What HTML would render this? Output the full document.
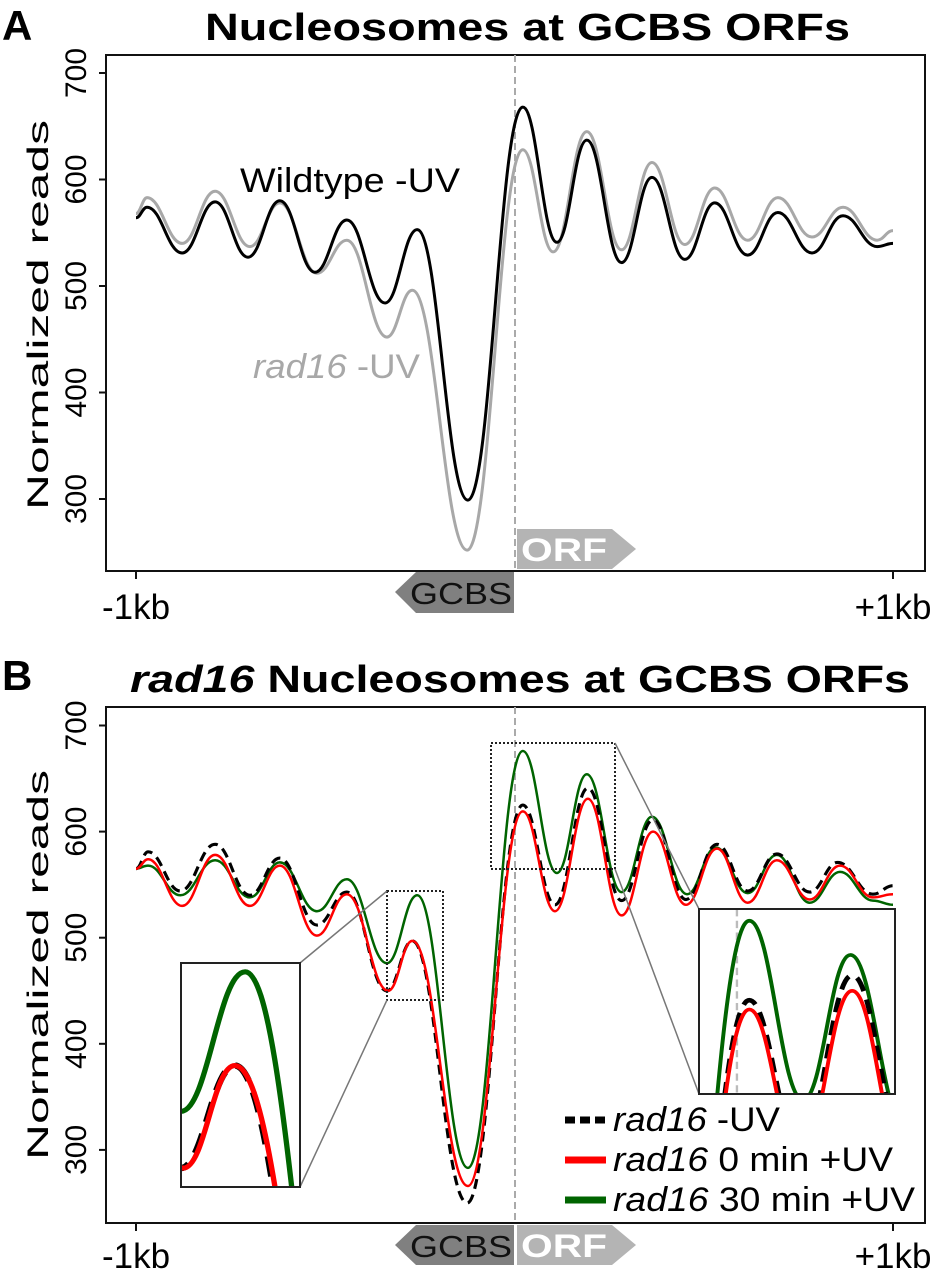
<!DOCTYPE html>
<html><head><meta charset="utf-8"><style>
html,body{margin:0;padding:0;background:#fff;width:931px;height:1280px;overflow:hidden;}
svg{display:block;font-family:"Liberation Sans",Arial,sans-serif;}
</style></head><body>
<svg id="fig" width="931" height="1280" viewBox="0 0 931 1280" xmlns="http://www.w3.org/2000/svg" overflow="hidden">
<defs>
<clipPath id="clipA"><rect x="106" y="55" width="819" height="516"/></clipPath>
<clipPath id="clipB"><rect x="106" y="707" width="819" height="516"/></clipPath>
<clipPath id="clipL"><rect x="181" y="963" width="119" height="224"/></clipPath>
<clipPath id="clipR"><rect x="699" y="909" width="196" height="185"/></clipPath>
</defs>
<text x="2" y="40" font-size="42" font-weight="bold">A</text>
<text x="205" y="40" font-size="38" font-weight="bold" textLength="645" lengthAdjust="spacingAndGlyphs">Nucleosomes at GCBS ORFs</text>
<rect x="106" y="55" width="819" height="516" fill="none" stroke="#111" stroke-width="2"/>
<text transform="translate(48,315) rotate(-90)" text-anchor="middle" font-size="30" textLength="390" lengthAdjust="spacingAndGlyphs">Normalized reads</text>
<line x1="515" y1="55" x2="515" y2="571" stroke="#aaa" stroke-width="2" stroke-dasharray="7,4"/>
<g id="gA"></g>
<text x="240" y="192" font-size="34" textLength="220" lengthAdjust="spacingAndGlyphs">Wildtype -UV</text>
<text x="253" y="378" font-size="34" fill="#a8a8a8" textLength="167" lengthAdjust="spacingAndGlyphs"><tspan font-style="italic">rad16</tspan> -UV</text>
<polygon points="517,529 612,529 636,549 612,569 517,569" fill="#b4b4b4"/>
<text x="521" y="561" font-size="32" font-weight="bold" fill="#fff" textLength="86" lengthAdjust="spacingAndGlyphs">ORF</text>
<polygon points="514,572 416,572 395,592 416,613 514,613" fill="#808080"/>
<text x="410" y="604" font-size="31" fill="#111" textLength="102" lengthAdjust="spacingAndGlyphs">GCBS</text>

<text x="2" y="690" font-size="42" font-weight="bold">B</text>
<text x="130" y="692" font-size="38" font-weight="bold" textLength="780" lengthAdjust="spacingAndGlyphs"><tspan font-style="italic">rad16</tspan> Nucleosomes at GCBS ORFs</text>
<rect x="106" y="707" width="819" height="516" fill="none" stroke="#111" stroke-width="2"/>
<text transform="translate(48,965) rotate(-90)" text-anchor="middle" font-size="30" textLength="390" lengthAdjust="spacingAndGlyphs">Normalized reads</text>
<line x1="515" y1="707" x2="515" y2="1223" stroke="#aaa" stroke-width="2" stroke-dasharray="7,4"/>
<g id="gB"></g>
<polygon points="514,1225 416,1225 395,1245 416,1265 514,1265" fill="#808080"/>
<text x="410" y="1257" font-size="31" fill="#111" textLength="102" lengthAdjust="spacingAndGlyphs">GCBS</text>
<polygon points="517,1225 612,1225 636,1245 612,1265 517,1265" fill="#b4b4b4"/>
<text x="521" y="1257" font-size="32" font-weight="bold" fill="#fff" textLength="86" lengthAdjust="spacingAndGlyphs">ORF</text>

<g>
<line x1="565" y1="1120" x2="606" y2="1120" stroke="#000" stroke-width="7" stroke-dasharray="10,5"/>
<text x="613" y="1131" font-size="34" textLength="167" lengthAdjust="spacingAndGlyphs"><tspan font-style="italic">rad16</tspan> -UV</text>
<line x1="565" y1="1160" x2="606" y2="1160" stroke="#ff0000" stroke-width="7"/>
<text x="613" y="1171" font-size="34" textLength="280" lengthAdjust="spacingAndGlyphs"><tspan font-style="italic">rad16</tspan> 0 min +UV</text>
<line x1="565" y1="1200" x2="606" y2="1200" stroke="#006400" stroke-width="7"/>
<text x="613" y="1211" font-size="34" textLength="302" lengthAdjust="spacingAndGlyphs"><tspan font-style="italic">rad16</tspan> 30 min +UV</text>
</g>
</svg>
<script>
const aBlackPos = [-1000,-971,-878,-791,-704,-620,-527,-443,-342,-257,-123,22,112,191,283,363,450,529,616,696,786,868,958,1000];
const aBlackVal = [564,574,531,579,527,580,513,562,484,553,299,668,541,637,522,602,525,578,529,569,531,566,537,540];
const aGrayPos = [-1000,-971,-878,-791,-699,-620,-522,-443,-337,-270,-125,22,102,191,283,363,450,529,616,696,786,868,958,1000];
const aGrayVal = [568,583,540,589,537,578,512,543,452,496,252,628,532,645,534,616,539,592,543,583,546,574,543,552];
const bDashPos = [-1000,-968,-883,-791,-699,-620,-522,-443,-337,-270,-125,22,107,194,283,366,453,535,616,693,780,854,947,1000];
const bDashVal = [565,581,544,588,540,575,512,543,450,497,250,625,531,641,535,611,536,588,544,579,543,571,541,549];
const bRedPos = [-1000,-968,-878,-791,-699,-620,-522,-443,-334,-270,-123,22,107,194,283,366,453,535,616,693,780,860,947,1000];
const bRedVal = [565,574,530,578,530,568,502,541,450,497,266,619,525,631,521,600,531,584,533,573,536,568,538,541];
const bGreenPos = [-1000,-968,-883,-791,-699,-620,-522,-443,-337,-257,-123,22,112,191,283,363,456,532,616,693,780,860,947,1000];
const bGreenVal = [565,568,540,573,538,571,525,555,476,540,283,676,561,654,543,614,541,585,542,578,533,562,535,531];
const yTicks = [300,400,500,600,700];
const xTicks = [-1000,1000];
const xTickLabels = ["-1kb","+1kb"];

const NS = "http://www.w3.org/2000/svg";
function xS(b){ return 514.5 + b*0.3785; }
function yA(v){ return 73 + (700-v)*1.065; }
function yB(v){ return 725.5 + (700-v)*1.061; }
function mk(tag, attrs, parent){
  const e = document.createElementNS(NS, tag);
  for (const k in attrs) e.setAttribute(k, attrs[k]);
  parent.appendChild(e); return e;
}
function pathD(pos, val, ys){
  let d = "M" + xS(pos[0]).toFixed(1) + "," + ys(val[0]).toFixed(1);
  for (let i=1;i<pos.length;i++){
    const x0=xS(pos[i-1]), y0=ys(val[i-1]), x1=xS(pos[i]), y1=ys(val[i]);
    const dx=x1-x0;
    d += " C" + (x0+dx*0.42).toFixed(1)+","+y0.toFixed(1)+" "+(x1-dx*0.42).toFixed(1)+","+y1.toFixed(1)+" "+x1.toFixed(1)+","+y1.toFixed(1);
  }
  return d;
}
function axes(g, ys, bottom, lblOff){
  yTicks.forEach(v=>{
    const y = ys(v);
    const t = mk("line",{x1:99,y1:y,x2:106,y2:y,stroke:"#111","stroke-width":2},g);
    
    
    const l = mk("text",{transform:"translate(86,"+y+") rotate(-90)","text-anchor":"middle","font-size":30},g);
    l.textContent = v;
    
    
  });
  xTicks.forEach((b,i)=>{
    const x = xS(b);
    const t = mk("line",{x1:x,y1:bottom,x2:x,y2:bottom+8,stroke:"#111","stroke-width":2},g);
    
    
    const l = mk("text",{x:x,y:bottom+lblOff,"text-anchor":"middle","font-size":35},g);
    l.textContent = xTickLabels[i];
    
    
  });
}
const gA = document.getElementById("gA");
axes(gA, yA, 571, 48);
const cA = mk("g",{"clip-path":"url(#clipA)"},gA);
const pGray = mk("path",{d:pathD(aGrayPos,aGrayVal,yA),fill:"none",stroke:"#a8a8a8","stroke-width":3},cA);


const pBlack = mk("path",{d:pathD(aBlackPos,aBlackVal,yA),fill:"none",stroke:"#000","stroke-width":3},cA);



const gB = document.getElementById("gB");
axes(gB, yB, 1223, 45);
function seriesB(parent, sw, scaleDash){
  const g = mk("g",{},parent);
  const pg = mk("path",{d:pathD(bGreenPos,bGreenVal,yB),fill:"none",stroke:"#006400","stroke-width":sw},g);
  
  
  const pd = mk("path",{d:pathD(bDashPos,bDashVal,yB),fill:"none",stroke:"#000","stroke-width":sw*1.25,"stroke-dasharray":(10*scaleDash)+","+(6*scaleDash)},g);
  
  
  const pr = mk("path",{d:pathD(bRedPos,bRedVal,yB),fill:"none",stroke:"#ff0000","stroke-width":sw},g);
  
  
  return g;
}
const cB = mk("g",{"clip-path":"url(#clipB)"},gB);
seriesB(cB, 2.5, 1);
const sb1 = mk("rect",{x:387,y:891,width:56,height:109,fill:"none",stroke:"#222","stroke-width":2,"stroke-dasharray":"2,2"},gB);


const sb2 = mk("rect",{x:491,y:743,width:124,height:126,fill:"none",stroke:"#222","stroke-width":2,"stroke-dasharray":"2,2"},gB);


[[300,963,387,891],[300,1187,387,1000],[615,743,699,909],[615,869,699,1094]].forEach((c,i)=>{
  const l = mk("line",{x1:c[0],y1:c[1],x2:c[2],y2:c[3],stroke:"#777","stroke-width":1.5},gB);
  
  
});
function inset(name, src, dst, clip){
  const bg = mk("rect",{x:dst[0],y:dst[1],width:dst[2],height:dst[3],fill:"#fff"},gB);
  
  
  const sx = dst[2]/src[2], sy = dst[3]/src[3];
  const cg = mk("g",{"clip-path":"url(#"+clip+")"},gB);
  const tg = mk("g",{transform:"translate("+dst[0]+","+dst[1]+") scale("+sx+","+sy+") translate("+(-src[0])+","+(-src[1])+")"},cg);
  const dl = mk("line",{x1:515,y1:src[1],x2:515,y2:src[1]+src[3],stroke:"#bbb","stroke-width":1.5,"stroke-dasharray":"5,3"},tg);
  
  
  seriesB(tg, 2.5, 1);
  const fr = mk("rect",{x:dst[0],y:dst[1],width:dst[2],height:dst[3],fill:"none",stroke:"#222","stroke-width":2},gB);
  
  
}
inset('left-inset',[387,891,56,109],[181,963,119,224],'clipL');
inset('right-inset',[491,743,124,126],[699,909,196,185],'clipR');
</script>
</body></html>
